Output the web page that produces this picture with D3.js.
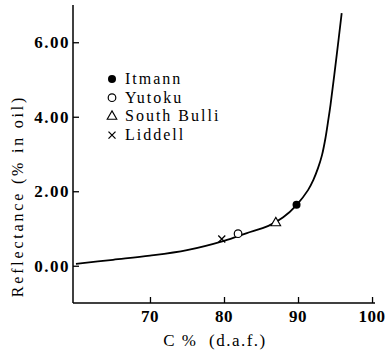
<!DOCTYPE html>
<html><head><meta charset="utf-8">
<script src="https://cdn.jsdelivr.net/npm/d3@7"></script>
<style>body{margin:0;background:#fff}</style>
</head><body>
<svg id="c" width="385" height="355"></svg>
<script>
const xTicks = [70, 80, 90, 100];
const yTicks = [0, 2, 4, 6];
const curveX = [60, 65, 70, 75, 80, 83, 86, 88, 89.8, 91.35, 92.06, 92.7, 93.24, 93.71, 94.05, 94.39, 95.23, 95.9];
const curveY = [0.05, 0.16, 0.27, 0.42, 0.67, 0.87, 1.07, 1.3, 1.63, 2.03, 2.30, 2.62, 2.97, 3.43, 3.86, 4.32, 5.66, 6.78];
const seriesNames = ["Itmann", "Yutoku", "South Bulli", "Liddell"];
const seriesSymbols = ["dot", "circle", "triangle", "cross"];
const seriesX = [89.8, 81.9, 87.0, 79.7];
const seriesY = [1.64, 0.86, 1.15, 0.72];

const svg = d3.select("#c");
const x = d3.scaleLinear().domain([59.6, 100.4]).range([73, 375]);
const y = d3.scaleLinear().domain([-1, 7]).range([303, 5]);

svg.append("line").attr("x1", 73).attr("x2", 73).attr("y1", y(7)).attr("y2", y(-1)).attr("stroke", "#000").attr("stroke-width", 1.5);
svg.append("line").attr("x1", 73).attr("x2", x(100.4)).attr("y1", 303).attr("y2", 303).attr("stroke", "#000").attr("stroke-width", 1.5);

const tickFont = "'Liberation Serif', 'DejaVu Serif', serif";
const yAx = svg.append("g").attr("transform", "translate(73,0)")
  .call(d3.axisRight(y).tickValues(yTicks).tickSize(6).tickFormat(""));
yAx.select(".domain").remove();
yAx.selectAll("line").attr("stroke-width", 1.3);
svg.selectAll(".ylab").data(yTicks).enter().append("text")
  .attr("x", 70).attr("y", d => y(d) + 6).attr("text-anchor", "end")
  .attr("font-family", tickFont).attr("font-weight", "bold").attr("font-size", 17).attr("letter-spacing", 1.5)
  .text(d => d3.format(".2f")(d));

const xAx = svg.append("g").attr("transform", "translate(0,303)")
  .call(d3.axisTop(x).tickValues(xTicks).tickSize(6).tickFormat(""));
xAx.select(".domain").remove();
xAx.selectAll("line").attr("stroke-width", 1.3);
svg.selectAll(".xlab").data(xTicks).enter().append("text")
  .attr("x", d => x(d)).attr("y", 322).attr("text-anchor", "middle")
  .attr("font-family", tickFont).attr("font-weight", "bold").attr("font-size", 17).attr("letter-spacing", 0.5)
  .text(d => d);

const pts = curveX.map((v, i) => [v, curveY[i]]);
svg.append("path").datum(pts)
  .attr("d", d3.line().x(d => x(d[0])).y(d => y(d[1])).curve(d3.curveCatmullRom.alpha(0.5)))
  .attr("fill", "none").attr("stroke", "#000").attr("stroke-width", 1.8);

function drawSym(g, type, cx, cy) {
  if (type === "dot") g.append("circle").attr("cx", cx).attr("cy", cy).attr("r", 4).attr("fill", "#000");
  else if (type === "circle") g.append("circle").attr("cx", cx).attr("cy", cy).attr("r", 3.8).attr("fill", "#fff").attr("stroke", "#000").attr("stroke-width", 1.2);
  else if (type === "triangle") g.append("path").attr("d", d3.symbol(d3.symbolTriangle, 40)()).attr("transform", `translate(${cx},${cy})`).attr("fill", "#fff").attr("stroke", "#000").attr("stroke-width", 1.1);
  else if (type === "cross") g.append("path").attr("d", `M${cx-3.5},${cy-3.5}L${cx+3.5},${cy+3.5}M${cx-3.5},${cy+3.5}L${cx+3.5},${cy-3.5}`).attr("stroke", "#000").attr("stroke-width", 1.3);
}
const pg = svg.append("g");
seriesNames.forEach((n, i) => drawSym(pg, seriesSymbols[i], x(seriesX[i]), y(seriesY[i])));

const lg = svg.append("g");
seriesNames.forEach((n, i) => {
  const ly = 79 + i * 18.7;
  drawSym(lg, seriesSymbols[i], 112, ly);
  lg.append("text").attr("x", 125).attr("y", ly + 5)
    .attr("font-family", tickFont).attr("font-size", 16).attr("letter-spacing", 2).text(n);
});

svg.append("text").attr("x", 215).attr("y", 346).attr("text-anchor", "middle")
  .attr("font-family", tickFont).attr("font-size", 17).attr("letter-spacing", 1.5).attr("xml:space", "preserve")
  .text("C %  (d.a.f.)");
svg.append("text").attr("transform", "translate(23,196) rotate(-90)").attr("text-anchor", "middle")
  .attr("font-family", tickFont).attr("font-size", 16).attr("letter-spacing", 2.8)
  .text("Reflectance (% in oil)");
</script>
</body></html>
